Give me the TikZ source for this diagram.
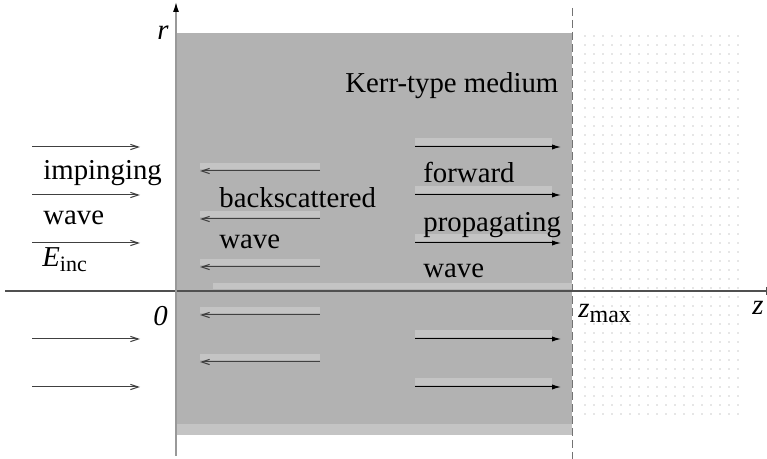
\documentclass[tikz,border=0pt]{standalone}
\usepackage{fontspec}
\setmainfont{Liberation Serif}
\usetikzlibrary{arrows.meta,patterns.meta}
\definecolor{medium}{RGB}{178,178,178}
\definecolor{bandc}{RGB}{196,196,196}
\definecolor{axisc}{RGB}{80,80,80}
\begin{document}
\begin{tikzpicture}[x=0.5pt,y=-0.5pt,
  lbl/.style={inner sep=0pt, anchor=base west, font=\fontsize{14.4}{17}\selectfont},
  inarrow/.style={draw=black!75, line width=0.5pt, -{Straight Barb[length=4pt,width=2.6pt]}},
  fwdarrow/.style={draw=black, line width=0.5pt, -{Latex[length=4.5pt,width=2.6pt]}},
  bandfill/.style={fill=bandc}]
\useasboundingbox (0,0) rectangle (767,459);
% dotted region beyond z_max
\fill[pattern={Dots[distance=4.5pt,radius=0.35pt]}, pattern color=black!42] (580,33) rectangle (740,422);
% Kerr medium
\fill[medium] (177,33) rectangle (572,435);
% lighter bands
\foreach \y in {171,219,267,315,362} \fill[bandfill] (200,\y-8) rectangle (320,\y-2);
\foreach \y in {147,195,243,339,387} \fill[bandfill] (415,\y-9) rectangle (552,\y-2);
\fill[bandfill] (213,283) rectangle (572,289);
\fill[bandfill] (177,424) rectangle (572,435);
% dashed boundary
\coordinate (dt) at (572,8);
\coordinate (db) at (572,459);
\draw[draw=black!55, line width=0.5pt, dash pattern=on 4pt off 2pt] (dt) -- (db);
% axes
\coordinate (zs) at (5,291);
\coordinate (ze) at (766,291);
\draw[draw=axisc, line width=0.6pt] (zs) -- (ze);
\draw[draw=axisc, line width=0.5pt] (766,287) -- (766,295);
\coordinate (rb) at (176,456);
\coordinate (rt) at (176,2);
\draw[draw=black!40, line width=0.7pt, -{Latex[length=5pt,width=3pt,color=black]}] (rb) -- (rt);
% impinging arrows
\foreach \y [count=\i] in {147,195,243,339,387} {
  \coordinate (in\i s) at (32,\y);
  \coordinate (in\i e) at (140,\y);
  \draw[inarrow] (in\i s) -- (in\i e);
}
% backscattered arrows
\foreach \y [count=\i] in {171,219,267,315,362} {
  \coordinate (bk\i s) at (320,\y);
  \coordinate (bk\i e) at (200,\y);
  \draw[inarrow] (bk\i s) -- (bk\i e);
}
% forward arrows
\foreach \y [count=\i] in {147,195,243,339,387} {
  \coordinate (fw\i s) at (415,\y);
  \coordinate (fw\i e) at (561,\y);
  \draw[fwdarrow] (fw\i s) -- (fw\i e);
}
% labels
\node[lbl] (imp) at (43,180) {impinging};
\node[lbl] (impw) at (43,225) {wave};
\node[lbl] (einc) at (42,267) {\textit{E}\raisebox{-0.35ex}{\fontsize{11}{13}\selectfont inc}};
\node[lbl] (bks) at (219,208) {backscattered};
\node[lbl] (bkw) at (219,249) {wave};
\node[lbl] (fwd) at (423,183) {forward};
\node[lbl] (prop) at (423,232) {propagating};
\node[lbl] (fww) at (423,278) {wave};
\node[lbl] (kerr) at (345,93) {Kerr-type medium};
\node[lbl] (rlab) at (157,40) {\textit{r}};
\node[lbl] (zero) at (153,326) {\textit{0}};
\node[lbl] (zmax) at (578,318) {\textit{z}\raisebox{-0.35ex}{\fontsize{12}{14}\selectfont max}};
\node[lbl] (zlab) at (752,315) {\textit{z}};
\end{tikzpicture}
\end{document}
